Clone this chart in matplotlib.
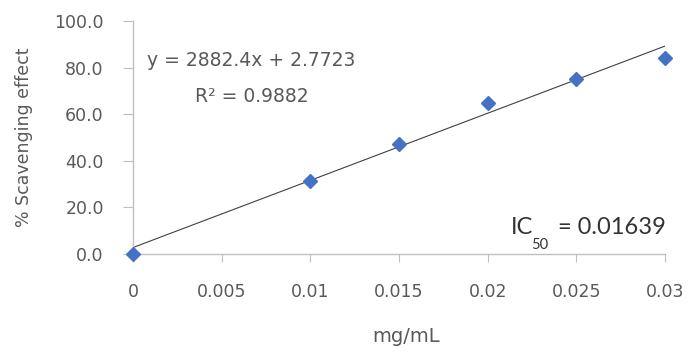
import numpy as np
import matplotlib.pyplot as plt

plt.rcParams['font.family'] = ['DejaVu Sans']

# concentration (mg/mL) and % scavenging
conc = [0, 0.01, 0.015, 0.02, 0.025, 0.03]
scavenging = [0.0, 31.5, 47.3, 65.0, 75.0, 84.3]

# linear trendline
slope = 2882.4
intercept = 2.7723
r2 = 0.9882
ic50 = 0.01639

x_ticks = [0, 0.005, 0.01, 0.015, 0.02, 0.025, 0.03]
x_tick_labels = ['0', '0.005', '0.01', '0.015', '0.02', '0.025', '0.03']
y_ticks = [0, 20, 40, 60, 80, 100]

text_col = '#595959'
axis_col = '#bfbfbf'

fig = plt.figure(figsize=(6.91, 3.53), dpi=100)
ax = fig.add_axes([0.1925, 0.2805, 0.7699, 0.66])

xfit = np.array([conc[0], conc[-1]])
ax.plot(xfit, slope * xfit + intercept, color='#404040', lw=0.8, zorder=2)
ax.plot(conc, scavenging, ls='none', marker='D', ms=7.5, color='#4472C4',
        markeredgecolor='#4472C4', zorder=3, clip_on=False)

ax.set_xlim(0, 0.03)
ax.set_ylim(0, 100)
ax.set_xticks(x_ticks)
ax.set_xticklabels(x_tick_labels)
ax.set_yticks(y_ticks)
ax.set_yticklabels([f'{v:.1f}' for v in y_ticks])

for s in ['top', 'right']:
    ax.spines[s].set_visible(False)
for s in ['left', 'bottom']:
    ax.spines[s].set_color(axis_col)
    ax.spines[s].set_linewidth(1.0)

ax.tick_params(axis='x', length=6, color=axis_col, pad=15, labelsize=12.5,
               labelcolor=text_col)
ax.tick_params(axis='y', length=7, color=axis_col, pad=14, labelsize=12.5,
               labelcolor=text_col)

ax.set_xlabel('mg/mL', fontsize=14, color=text_col, va='center')
ax.set_ylabel('% Scavenging effect', fontsize=12.5, color=text_col,
              va='center')
ax.xaxis.set_label_coords(0.513, -0.356)
ax.yaxis.set_label_coords(-0.205, 0.5)

ax.text(0.0008, 83, f'y = {slope}x + {intercept}', fontsize=13.5,
        color=text_col, va='center')
ax.text(0.0035, 67.5, f'R² = {r2}', fontsize=13.5, color=text_col,
        va='center')

# IC50 annotation
ic_font = ['Lato', 'DejaVu Sans']
ax.text(0.0213, 11.5, 'IC', fontsize=17, color='#333333', va='center',
        family=ic_font)
ax.text(0.02245, 3.7, '50', fontsize=10.5, color='#333333', va='center',
        family=ic_font)
ax.text(0.02395, 11.5, f'= {ic50}', fontsize=17, color='#333333',
        va='center', family=ic_font)

fig.savefig('out.png', dpi=100)
